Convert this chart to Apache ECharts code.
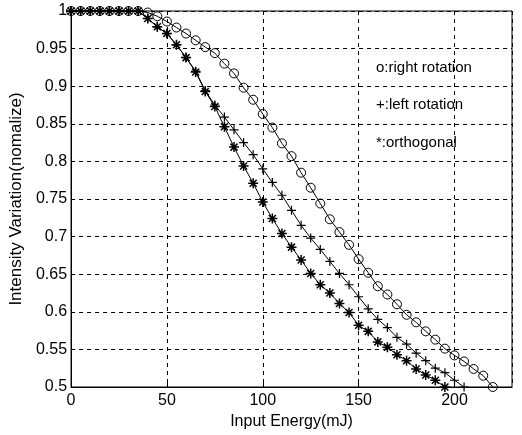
<!DOCTYPE html>
<html>
<head>
<meta charset="utf-8">
<script src="https://cdn.jsdelivr.net/npm/echarts@6/dist/echarts.min.js"></script>
<style>
html,body{margin:0;padding:0;background:#fff;}
#chart{width:522px;height:435px;}
</style>
</head>
<body>
<div id="chart"></div>
<script>
// ---- data ----
const energyRight = [0,5,10,15,20,25,30,35,40,45,50,55,60,65,70,75,80,85,90,95,100,105,110,115,120,125,130,135,140,145,150,155,160,165,170,175,180,185,190,195,200,205,210,215,220];
const rightRotation = [1,1,1,1,1,1,1,1,0.998,0.993,0.986,0.978,0.970,0.961,0.952,0.944,0.930,0.917,0.898,0.882,0.863,0.845,0.824,0.807,0.785,0.765,0.744,0.723,0.706,0.689,0.670,0.652,0.634,0.623,0.610,0.596,0.586,0.574,0.563,0.551,0.542,0.534,0.524,0.515,0.500];

const energyLeft = [0,5,10,15,20,25,30,35,40,45,50,55,60,65,70,75,80,85,90,95,100,105,110,115,120,125,130,135,140,145,150,155,160,165,170,175,180,185,190,195,200,205];
const leftRotation = [1,1,1,1,1,1,1,1,0.990,0.979,0.970,0.955,0.938,0.920,0.894,0.875,0.859,0.842,0.825,0.809,0.790,0.772,0.755,0.735,0.715,0.698,0.683,0.667,0.651,0.636,0.620,0.604,0.590,0.579,0.566,0.557,0.545,0.535,0.525,0.519,0.509,0.500];

const energyOrth = [0,5,10,15,20,25,30,35,40,45,50,55,60,65,70,75,80,85,90,95,100,105,110,115,120,125,130,135,140,145,150,155,160,165,170,175,180,185,190,195];
const orthogonal = [1,1,1,1,1,1,1,1,0.990,0.979,0.970,0.955,0.938,0.919,0.893,0.873,0.846,0.819,0.794,0.771,0.746,0.724,0.704,0.686,0.669,0.651,0.636,0.625,0.611,0.599,0.582,0.574,0.560,0.553,0.543,0.535,0.524,0.516,0.509,0.500];

const legendTexts = ['o:right rotation', '+:left rotation', '*:orthogonal'];
const xAxisTitle = 'Input Energy(mJ)';
const yAxisTitle = 'Intensity Variation(nomalize)';

// ---- chart ----
const FONT = '"Liberation Sans", Arial, sans-serif';
const pair = (xs, ys) => xs.map((x, i) => [x, ys[i]]);

const plusPath = 'path://M0,5L10,5M5,0L5,10';
const starPath = 'path://M5,0L5,10M0,5L10,5M1.5,1.5L8.5,8.5M8.5,1.5L1.5,8.5';

function lineSeries(data, symbol, size, bw) {
  return {
    type: 'line',
    data: data,
    symbol: symbol,
    symbolSize: size,
    showAllSymbol: true,
    lineStyle: { color: '#000', width: 1 },
    itemStyle: { color: 'rgba(0,0,0,0)', borderColor: '#000', borderWidth: bw },
    emphasis: { disabled: true },
    z: 3
  };
}

const chart = echarts.init(document.getElementById('chart'), null, { renderer: 'canvas' });
chart.setOption({
  animation: false,
  backgroundColor: '#fff',
  grid: { left: 68, right: 10, top: 11, bottom: 48, show: true, borderColor: '#000', borderWidth: 1, backgroundColor: 'transparent' },
  xAxis: {
    type: 'value', min: 0, max: 230, interval: 50,
    name: xAxisTitle, nameLocation: 'middle', nameGap: 25,
    nameTextStyle: { fontFamily: FONT, fontSize: 16, color: '#000' },
    axisLine: { show: true, lineStyle: { color: '#000' } },
    axisTick: { show: true, inside: true, length: 4, lineStyle: { color: '#000' } },
    axisLabel: { showMaxLabel: false, fontFamily: FONT, fontSize: 16, color: '#000', margin: 6 },
    splitLine: { show: true, lineStyle: { color: '#000', type: [4, 4], width: 1 } }
  },
  yAxis: {
    type: 'value', min: 0.5, max: 1, interval: 0.05,
    name: yAxisTitle, nameLocation: 'middle', nameGap: 46, nameRotate: 90,
    nameTextStyle: { fontFamily: FONT, fontSize: 17, color: '#000' },
    axisLine: { show: true, lineStyle: { color: '#000' } },
    axisTick: { show: true, inside: true, length: 4, lineStyle: { color: '#000' } },
    axisLabel: { fontFamily: FONT, fontSize: 16, color: '#000', margin: 4 },
    splitLine: { show: true, lineStyle: { color: '#000', type: [4, 4], width: 1 } }
  },
  graphic: legendTexts.map((t, i) => ({
    type: 'text',
    left: 376,
    top: 60 + i * 37.5,
    style: { text: t, fontFamily: FONT, fontSize: 15, fill: '#000' }
  })),
  series: [
    lineSeries(pair(energyRight, rightRotation), 'circle', 9, 1),
    lineSeries(pair(energyLeft, leftRotation), plusPath, 9, 1.2),
    lineSeries(pair(energyOrth, orthogonal), starPath, 10, 1.5)
  ]
});
</script>
</body>
</html>
